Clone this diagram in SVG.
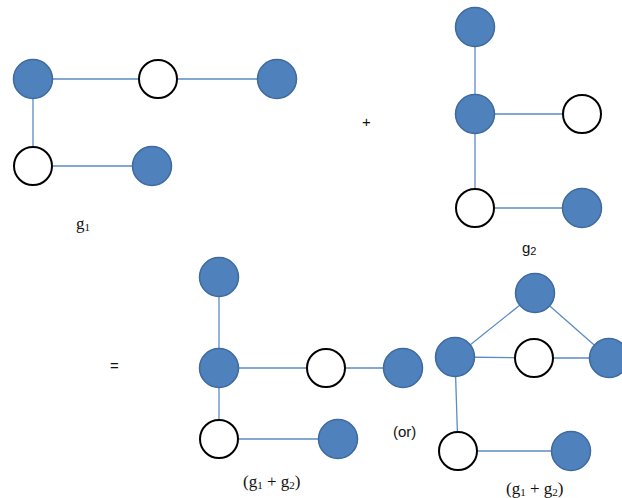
<svg xmlns="http://www.w3.org/2000/svg" width="622" height="498" viewBox="0 0 622 498">
<style>
.f{fill:#4F81BD;stroke:#3E6A9E;stroke-width:1.5}
.o{fill:#fff;stroke:#000;stroke-width:2}
.e{stroke:#5B8BC6;stroke-width:1.3;fill:none}
.ts{font-family:"Liberation Serif",serif;font-size:17px;fill:#111}
.tn{font-family:"Liberation Sans",sans-serif;font-size:15px;fill:#111}
.sub{font-size:11px}
</style>
<rect width="622" height="498" fill="#fff"/>
<g id="connectors">
<line class="e" x1="33" y1="79" x2="158" y2="79"/>
<line class="e" x1="158" y1="79" x2="277" y2="79"/>
<line class="e" x1="33" y1="79" x2="33" y2="166"/>
<line class="e" x1="33" y1="166" x2="152" y2="166"/>
<line class="e" x1="475" y1="27" x2="475" y2="114"/>
<line class="e" x1="475" y1="114" x2="582" y2="114"/>
<line class="e" x1="475" y1="114" x2="475" y2="208"/>
<line class="e" x1="475" y1="208" x2="582" y2="208"/>
<line class="e" x1="219" y1="277" x2="219" y2="368"/>
<line class="e" x1="219" y1="368" x2="326" y2="368"/>
<line class="e" x1="326" y1="368" x2="403" y2="368"/>
<line class="e" x1="219" y1="368" x2="219" y2="439"/>
<line class="e" x1="219" y1="439" x2="338" y2="439"/>
<line class="e" x1="455" y1="357" x2="535" y2="293"/>
<line class="e" x1="535" y1="293" x2="609" y2="358"/>
<line class="e" x1="455" y1="357" x2="534" y2="358"/>
<line class="e" x1="534" y1="358" x2="609" y2="358"/>
<line class="e" x1="455" y1="357" x2="458" y2="451"/>
<line class="e" x1="458" y1="451" x2="571" y2="451"/>
</g>
<g id="g1-a"><circle class="f" cx="33" cy="79" r="19.5"/></g>
<g id="g1-b"><circle class="o" cx="158" cy="79" r="19"/></g>
<g id="g1-c"><circle class="f" cx="277" cy="79" r="19.5"/></g>
<g id="g1-d"><circle class="o" cx="33" cy="166" r="19"/></g>
<g id="g1-e"><circle class="f" cx="152" cy="166" r="19.5"/></g>
<g id="g2-a"><circle class="f" cx="475" cy="27" r="19.5"/></g>
<g id="g2-b"><circle class="f" cx="475" cy="114" r="19.5"/></g>
<g id="g2-c"><circle class="o" cx="582" cy="114" r="19"/></g>
<g id="g2-d"><circle class="o" cx="475" cy="208" r="19"/></g>
<g id="g2-e"><circle class="f" cx="582" cy="208" r="19.5"/></g>
<g id="s1-a"><circle class="f" cx="219" cy="277" r="19.5"/></g>
<g id="s1-b"><circle class="f" cx="219" cy="368" r="19.5"/></g>
<g id="s1-c"><circle class="o" cx="326" cy="368" r="19"/></g>
<g id="s1-d"><circle class="f" cx="403" cy="368" r="19.5"/></g>
<g id="s1-e"><circle class="o" cx="219" cy="439" r="19"/></g>
<g id="s1-f"><circle class="f" cx="338" cy="439" r="19.5"/></g>
<g id="s2-a"><circle class="f" cx="535" cy="293" r="19.5"/></g>
<g id="s2-b"><circle class="f" cx="455" cy="357" r="19.5"/></g>
<g id="s2-c"><circle class="o" cx="534" cy="358" r="19"/></g>
<g id="s2-d"><circle class="f" cx="609" cy="358" r="19.5"/></g>
<g id="s2-e"><circle class="o" cx="458" cy="451" r="19"/></g>
<g id="s2-f"><circle class="f" cx="571" cy="451" r="19.5"/></g>
<g id="labels">
<text class="ts" x="76" y="229">g<tspan class="sub" dy="2">1</tspan></text>
<text class="tn" x="522" y="253">g<tspan class="sub" dy="2">2</tspan></text>
<text class="tn" x="362" y="127">+</text>
<text class="tn" x="110" y="371">=</text>
<text class="tn" x="393" y="437">(or)</text>
<text class="ts" x="243" y="487">(g<tspan class="sub" dy="2">1</tspan><tspan dy="-2"> + g</tspan><tspan class="sub" dy="2">2</tspan><tspan dy="-2">)</tspan></text>
<text class="ts" x="506" y="494">(g<tspan class="sub" dy="2">1</tspan><tspan dy="-2"> + g</tspan><tspan class="sub" dy="2">2</tspan><tspan dy="-2">)</tspan></text>
</g>
</svg>
